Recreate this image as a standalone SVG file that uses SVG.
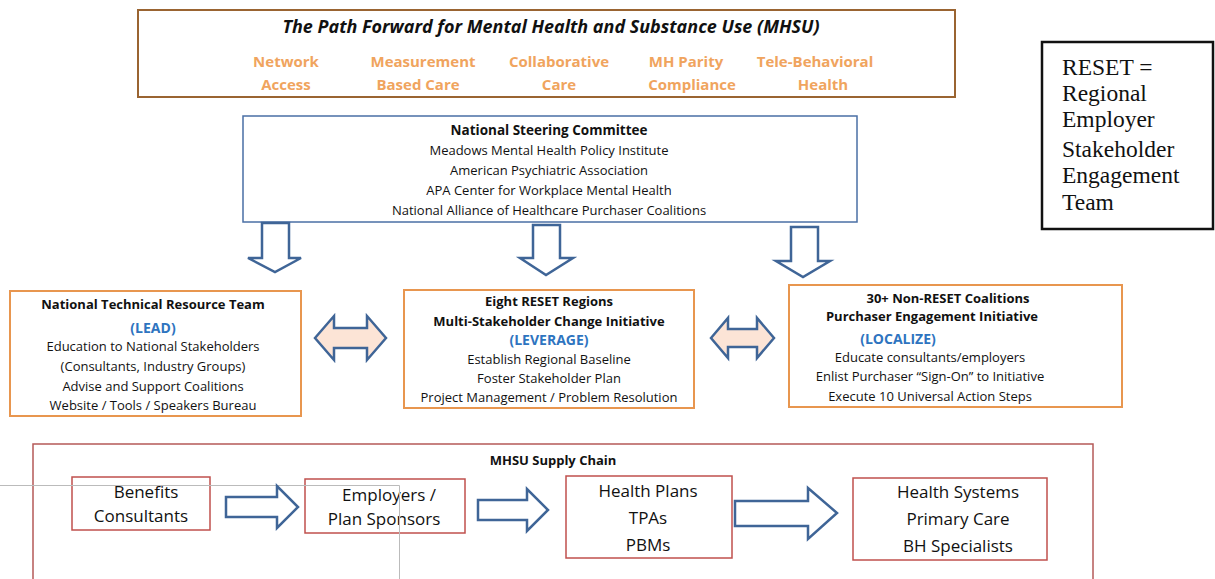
<svg xmlns="http://www.w3.org/2000/svg" width="1215" height="579" viewBox="0 0 1215 579">
<style>
text{font-family:"Open Sans","Liberation Sans",sans-serif;fill:#111;text-anchor:middle}
text.serif{font-family:"Liberation Serif","Times New Roman",serif;font-size:23.5px;text-anchor:start}
.b{font-weight:bold}
.s14{font-size:13px}
.s15{font-size:13.5px}
.or{fill:#F0A45E;font-weight:bold;font-size:15px}
.bl{fill:#2E74C0;font-weight:bold;font-size:14px}
.sc{font-size:17px}
.arr{fill:#fff;stroke:#3F6597;stroke-width:2.5}
.darr{fill:#FCE4D6;stroke:#3F6597;stroke-width:2.5}
.ob{fill:#fff;stroke:#E8964F;stroke-width:2}
.rb{fill:#fff;stroke:#C0504D;stroke-width:1.5}
</style>
<rect width="1215" height="579" fill="#fff"/>
<g id="header">
<rect x="138" y="10" width="817" height="87" fill="#fff" stroke="#9A6431" stroke-width="2"/>
<text x="551" y="33" style="font-size:18px;font-weight:bold;font-style:italic" textLength="537" lengthAdjust="spacingAndGlyphs">The Path Forward for Mental Health and Substance Use (MHSU)</text>
<text class="or" x="286" y="67">Network</text><text class="or" x="286" y="90">Access</text>
<text class="or" x="423" y="67">Measurement</text><text class="or" x="418" y="90">Based Care</text>
<text class="or" x="559" y="67">Collaborative</text><text class="or" x="559" y="90">Care</text>
<text class="or" x="686" y="67">MH Parity</text><text class="or" x="692" y="90">Compliance</text>
<text class="or" x="815" y="67">Tele-Behavioral</text><text class="or" x="823" y="90">Health</text>
</g>
<g id="steering">
<rect x="243" y="116" width="614" height="106" fill="#fff" stroke="#4A6FA5" stroke-width="1.5"/>
<text class="s15 b" x="549" y="135">National Steering Committee</text>
<text class="s14" x="549" y="155">Meadows Mental Health Policy Institute</text>
<text class="s14" x="549" y="175">American Psychiatric Association</text>
<text class="s14" x="549" y="195">APA Center for Workplace Mental Health</text>
<text class="s14" x="549" y="215">National Alliance of Healthcare Purchaser Coalitions</text>
</g>
<g id="reset-legend">
<rect x="1042" y="42" width="171" height="187" fill="#fff" stroke="#111" stroke-width="2.5"/>
<text class="serif" x="1062" y="75">RESET =</text>
<text class="serif" x="1062" y="101">Regional</text>
<text class="serif" x="1062" y="127">Employer</text>
<text class="serif" x="1062" y="157">Stakeholder</text>
<text class="serif" x="1062" y="183">Engagement</text>
<text class="serif" x="1062" y="210">Team</text>
</g>
<g id="lead">
<rect class="ob" x="10" y="291" width="291" height="125"/>
<text class="s14 b" x="153" y="309">National Technical Resource Team</text>
<text class="bl" x="153" y="333">(LEAD)</text>
<text class="s14" x="153" y="351">Education to National Stakeholders</text>
<text class="s14" x="153" y="371">(Consultants, Industry Groups)</text>
<text class="s14" x="153" y="391">Advise and Support Coalitions</text>
<text class="s14" x="153" y="410">Website / Tools / Speakers Bureau</text>
</g>
<g id="leverage">
<rect class="ob" x="404" y="290" width="290" height="118"/>
<text class="s14 b" x="549" y="306">Eight RESET Regions</text>
<text class="s14 b" x="549" y="326">Multi-Stakeholder Change Initiative</text>
<text class="bl" x="549" y="345">(LEVERAGE)</text>
<text class="s14" x="549" y="364">Establish Regional Baseline</text>
<text class="s14" x="549" y="383">Foster Stakeholder Plan</text>
<text class="s14" x="549" y="402">Project Management / Problem Resolution</text>
</g>
<g id="localize">
<rect class="ob" x="789" y="285" width="333" height="122"/>
<text class="s14 b" x="948" y="303">30+ Non-RESET Coalitions</text>
<text class="s14 b" x="932" y="321">Purchaser Engagement Initiative</text>
<text class="bl" x="898" y="344">(LOCALIZE)</text>
<text class="s14" x="930" y="362">Educate consultants/employers</text>
<text class="s14" x="930" y="381">Enlist Purchaser “Sign-On” to Initiative</text>
<text class="s14" x="930" y="401">Execute 10 Universal Action Steps</text>
</g>
<g id="supply-chain">
<rect x="33" y="444" width="1060" height="140" fill="none" stroke="#B55A58" stroke-width="1.5"/>
<text class="b" x="553" y="465" style="font-size:13px">MHSU Supply Chain</text>
</g>
<g id="benefits">
<rect class="rb" x="72" y="477" width="138" height="53"/>
<text class="sc" x="146" y="498">Benefits</text>
<text class="sc" x="141" y="522">Consultants</text>
</g>
<g id="employers">
<rect class="rb" x="305" y="479" width="160" height="54"/>
<text class="sc" x="389" y="501">Employers /</text>
<text class="sc" x="384" y="525">Plan Sponsors</text>
</g>
<g id="health-plans">
<rect class="rb" x="566" y="476" width="166" height="82"/>
<text class="sc" x="648" y="497">Health Plans</text>
<text class="sc" x="648" y="524">TPAs</text>
<text class="sc" x="648" y="551">PBMs</text>
</g>
<g id="health-systems">
<rect class="rb" x="853" y="478" width="194" height="82"/>
<text class="sc" x="958" y="498">Health Systems</text>
<text class="sc" x="958" y="525">Primary Care</text>
<text class="sc" x="958" y="552">BH Specialists</text>
</g>
<g id="guides" stroke="#bbb" stroke-width="1" fill="none">
<path d="M0 485.5H399.5V579"/>
</g>
<g id="connectors">
<path class="arr" d="M262 223H289V258H301L275 272L248 258H262Z"/>
<path class="arr" d="M533 225H560V258H573L546 275L520 258H533Z"/>
<path class="arr" d="M791 227H818V261H830L803 277L776 261H791Z"/>
<path class="darr" d="M315 338L334 316V328H367V316L386 338L367 360V348H334V360Z"/>
<path class="darr" d="M711 338L728 318V329H757V318L774 338L757 358V347H728V358Z"/>
<path class="arr" d="M226 497H277V486L298 507L277 528V517H226Z"/>
<path class="arr" d="M478 500H527V489L548 510L527 531V520H478Z"/>
<path class="arr" d="M735 501H808V488L837 513L808 539V526H735Z"/>
</g>
</svg>
